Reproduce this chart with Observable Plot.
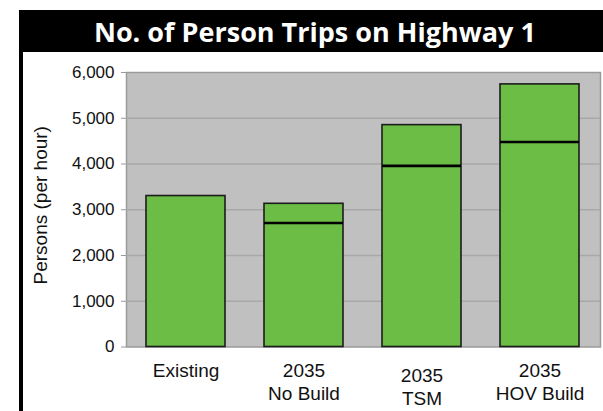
<!DOCTYPE html>
<html><head><meta charset="utf-8">
<script src="https://cdn.jsdelivr.net/npm/d3@7"></script>
<script src="https://cdn.jsdelivr.net/npm/@observablehq/plot@0.6"></script>
<style>
body{margin:0;background:#fff;}
#wrap{position:relative;width:603px;height:411px;overflow:hidden;font-family:"Liberation Sans",Arial,sans-serif;}
#band{position:absolute;left:19px;top:10px;width:584px;height:42px;background:#000;}
#leftline{position:absolute;left:19px;top:10px;width:4px;height:401px;background:#000;}
#title{position:absolute;left:19px;top:10px;width:584px;height:42px;display:flex;align-items:center;justify-content:center;}
#title span{display:inline-block;color:#fff;font:bold 27px "Open Sans",sans-serif;white-space:nowrap;transform-origin:center;margin-left:8px;}
#chart{position:absolute;left:0;top:52px;}
</style>
</head><body>
<div id="wrap">
  <div id="band"></div>
  <div id="leftline"></div>
  <div id="title"><span id="titletext">No. of Person Trips on Highway 1</span></div>
  <div id="chart"></div>
</div>
<script>
const categories = ["Existing", "2035 No Build", "2035 TSM", "2035 HOV Build"];
const categoryLabels = ["Existing", "2035\nNo Build", "2035\nTSM", "2035\nHOV Build"];
const totalTrips = [3300, 3130, 4850, 5740];
const lowerTrips = [null, 2710, 3960, 4480];
const yTicks = [0, 1000, 2000, 3000, 4000, 5000, 6000];
const yLabel = "Persons (per hour)";

const bars = categories.map((c, i) => ({cat: c, total: totalTrips[i]}));
const lines = categories.map((c, i) => ({cat: c, v: lowerTrips[i]})).filter(d => d.v != null);
const labelOf = d => categoryLabels[categories.indexOf(d)];
const fmt = d3.format(",");

const chart = Plot.plot({
  width: 603,
  height: 359,
  marginTop: 20,
  marginBottom: 64.5,
  marginLeft: 126,
  marginRight: 3,
  style: {background: "transparent", fontFamily: "'Liberation Sans', Arial, sans-serif", color: "#111"},
  x: {type: "band", domain: categories, paddingInner: 0.33, paddingOuter: 0.165, axis: null},
  y: {domain: [0, 6000], axis: null},
  marks: [
    Plot.frame({fill: "#c0c0c0", stroke: "#9b9b9b", strokeWidth: 1.5}),
    Plot.gridY(yTicks.filter(t => t > 0 && t < 6000), {stroke: "#a8a8a8", strokeOpacity: 1, strokeWidth: 1.5}),
    Plot.axisY(yTicks, {tickSize: 5, tickPadding: 7, fontSize: 17, tickFormat: fmt, stroke: "#999", label: null}),
    Plot.barY(bars, {x: "cat", y: "total", fill: "#6bbd45", stroke: "#1c1c1c", strokeWidth: 1.6}),
    Plot.tickY(lines, {x: "cat", y: "v", stroke: "#000", strokeWidth: 2.6}),
    Plot.axisX(categories.filter(c => c !== "2035 TSM"), {tickSize: 0, tickPadding: 12.5, fontSize: 19, lineHeight: 1.26, tickFormat: labelOf, label: null}),
    Plot.axisX(["2035 TSM"], {tickSize: 0, tickPadding: 17.5, fontSize: 19, lineHeight: 1.26, tickFormat: labelOf, label: null}),
    Plot.text([yLabel], {frameAnchor: "left", rotate: -90, dx: -86, dy: -4.5, fontSize: 19, fill: "#111", textAnchor: "middle"})
  ]
});
document.getElementById("chart").appendChild(chart);

const t = document.getElementById("titletext");
const w = t.getBoundingClientRect().width;
t.style.transform = `scaleX(${442 / w})`;
</script>
</body></html>
